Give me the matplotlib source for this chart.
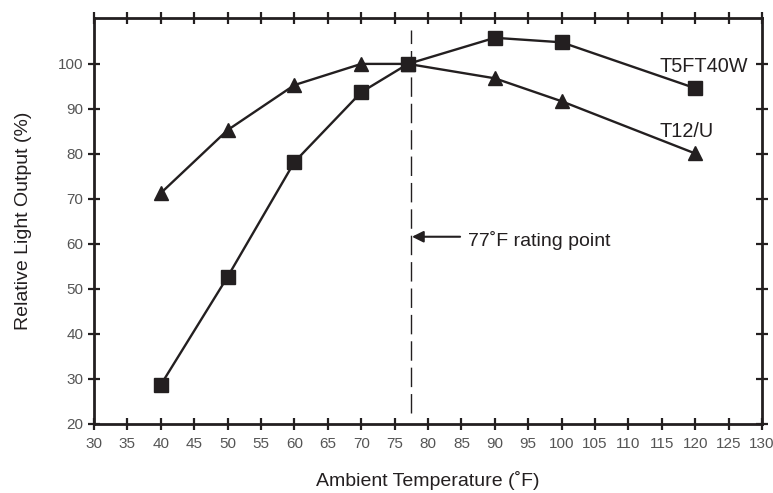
import matplotlib
matplotlib.use("Agg")
import matplotlib.pyplot as plt

plt.rcParams['font.family'] = ['Liberation Sans', 'DejaVu Sans']

temps = [40, 50, 60, 70, 77, 90, 100, 120]
t5_values = [28.7, 52.7, 78.2, 93.7, 100, 105.8, 104.8, 94.6]
t12_values = [71.3, 85.3, 95.3, 100, 100, 96.8, 91.7, 80.1]
series_names = ["T5FT40W", "T12/U"]
x_ticks = list(range(30, 131, 5))
y_ticks = list(range(20, 101, 10))
rating_temp = 77

fig = plt.figure(figsize=(7.73, 4.93), dpi=100)
ax = fig.add_axes([0.1216, 0.140, 0.8642, 0.8235])

ink = '#231f20'
ax.plot(temps, t5_values, color=ink, lw=1.7, marker='s', ms=10, mec=ink, mfc=ink, zorder=3)
ax.plot(temps, t12_values, color=ink, lw=1.7, marker='^', ms=10.5, mec=ink, mfc=ink, zorder=3)

ax.plot([rating_temp + 0.5] * 2, [22.4, 107.6], color=ink, lw=1.0, dashes=(14, 5), zorder=2)

ax.set_xlim(30, 130)
ax.set_ylim(20, 110.2)
ax.set_xticks(x_ticks)
ax.set_yticks(y_ticks)
ax.tick_params(axis='both', direction='inout', length=9, width=1.6, color=ink,
               labelsize=11, labelcolor='#555555', top=True, right=True, pad=3)
ax.tick_params(axis='x', pad=5)
for s in ax.spines.values():
    s.set_linewidth(2)
    s.set_color(ink)

ax.set_xlabel("Ambient Temperature (˚F)", fontsize=14, color=ink)
ax.xaxis.set_label_coords(0.5, -0.115)
ax.set_ylabel("Relative Light Output (%)", fontsize=14, color=ink)
ax.yaxis.set_label_coords(-0.093, 0.5)

ax.text(127.9, 98.2, series_names[0], fontsize=14.3, color=ink, ha='right', va='baseline')
ax.text(114.7, 83.8, series_names[1], fontsize=14.3, color=ink, ha='left', va='baseline')

ax.annotate("", xy=(rating_temp + 0.6, 61.6), xytext=(84.8, 61.6),
            arrowprops=dict(arrowstyle='-|>', color=ink, lw=1.5, mutation_scale=17,
                            shrinkA=0, shrinkB=0))
ax.text(86.0, 59.6, "77˚F rating point", fontsize=14, color=ink, ha='left', va='baseline')

fig.savefig("out.png", dpi=100)
